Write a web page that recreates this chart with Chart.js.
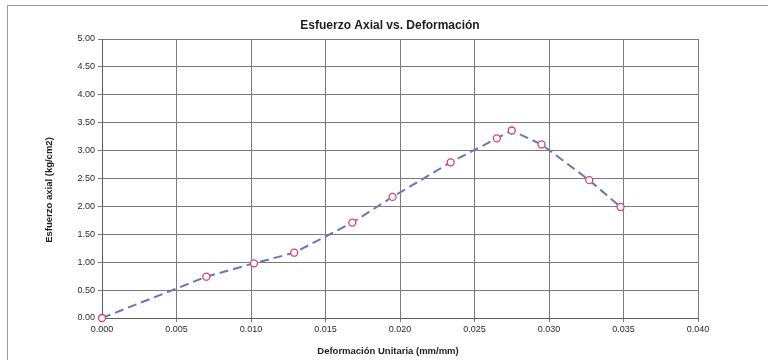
<!DOCTYPE html>
<html>
<head>
<meta charset="utf-8">
<script src="https://cdn.jsdelivr.net/npm/chart.js@4"></script>
<style>
  html, body { margin: 0; padding: 0; background: #fff; }
  #chart { display: block; }
</style>
</head>
<body>
<canvas id="chart" width="768" height="360"></canvas>
<script>
// strain (mm/mm) and axial stress (kg/cm2) readings
const strain = [0.0000, 0.0070, 0.0102, 0.0129, 0.0168, 0.0195, 0.0234, 0.0265, 0.0275, 0.0295, 0.0327, 0.0348]
const stress = [0.00, 0.74, 0.98, 1.17, 1.71, 2.17, 2.79, 3.22, 3.36, 3.11, 2.47, 1.99]

const xTicks = [0, 0.005, 0.010, 0.015, 0.020, 0.025, 0.030, 0.035, 0.040]
const yTicks = [0, 0.5, 1.0, 1.5, 2.0, 2.5, 3.0, 3.5, 4.0, 4.5, 5.0]

const chartTitle = 'Esfuerzo Axial vs. Deformación'
const xTitle = 'Deformación Unitaria (mm/mm)'
const yTitle = 'Esfuerzo axial (kg/cm2)'

const points = strain.map((x, i) => ({ x: x, y: stress[i] }))

// frame around the sheet plus the chart and axis titles
const decorations = {
  id: 'decorations',
  beforeDraw(chart) {
    const ctx = chart.ctx
    ctx.save()
    ctx.fillStyle = '#fff'
    ctx.fillRect(0, 0, chart.width, chart.height)
    ctx.strokeStyle = '#9a9a9a'
    ctx.lineWidth = 1
    ctx.strokeRect(7.5, 5.5, chart.width + 20, chart.height + 20)
    ctx.restore()
  },
  afterDraw(chart) {
    const ctx = chart.ctx
    ctx.save()
    ctx.fillStyle = '#1e1e1e'
    ctx.textAlign = 'center'
    ctx.textBaseline = 'middle'
    ctx.font = 'bold 12px "Liberation Sans", Arial, sans-serif'
    ctx.fillText(chartTitle, 390, 26)
    ctx.font = 'bold 9.5px "Liberation Sans", Arial, sans-serif'
    ctx.fillText(xTitle, 388, 351)
    ctx.translate(49, 190)
    ctx.rotate(-Math.PI / 2)
    ctx.fillText(yTitle, 0, 0)
    ctx.restore()
  }
}

new Chart(document.getElementById('chart'), {
  type: 'scatter',
  data: {
    datasets: [{
      label: 'Esfuerzo',
      data: points,
      showLine: true,
      clip: false,
      tension: 0,
      borderColor: '#6b74b9',
      borderWidth: 2,
      borderDash: [9, 5],
      pointRadius: 3.5,
      pointBorderWidth: 1.3,
      pointBorderColor: '#d8416f',
      pointBackgroundColor: '#ffffff'
    }]
  },
  options: {
    responsive: false,
    animation: false,
    layout: { padding: { left: 0, top: 39, right: 70, bottom: 0 } },
    plugins: {
      legend: { display: false },
      tooltip: { enabled: false }
    },
    scales: {
      x: {
        type: 'linear',
        min: 0,
        max: 0.04,
        afterBuildTicks: scale => { scale.ticks = xTicks.map(v => ({ value: v })) },
        afterFit: scale => { scale.height = 42 },
        grid: { color: '#7c7c7c', lineWidth: 1, tickLength: 4 },
        border: { color: '#5c5c5c', width: 1 },
        ticks: {
          padding: 2,
          color: '#2a2a2a',
          font: { family: '"Liberation Sans", Arial, sans-serif', size: 9 },
          callback: v => v.toFixed(3)
        }
      },
      y: {
        type: 'linear',
        min: 0,
        max: 5,
        afterBuildTicks: scale => { scale.ticks = yTicks.map(v => ({ value: v })) },
        afterFit: scale => { scale.width = 102 },
        grid: { color: '#7c7c7c', lineWidth: 1, tickLength: 4 },
        border: { color: '#5c5c5c', width: 1 },
        ticks: {
          padding: 3,
          color: '#2a2a2a',
          font: { family: '"Liberation Sans", Arial, sans-serif', size: 9 },
          callback: v => v.toFixed(2)
        }
      }
    }
  },
  plugins: [decorations]
})
</script>
</body>
</html>
